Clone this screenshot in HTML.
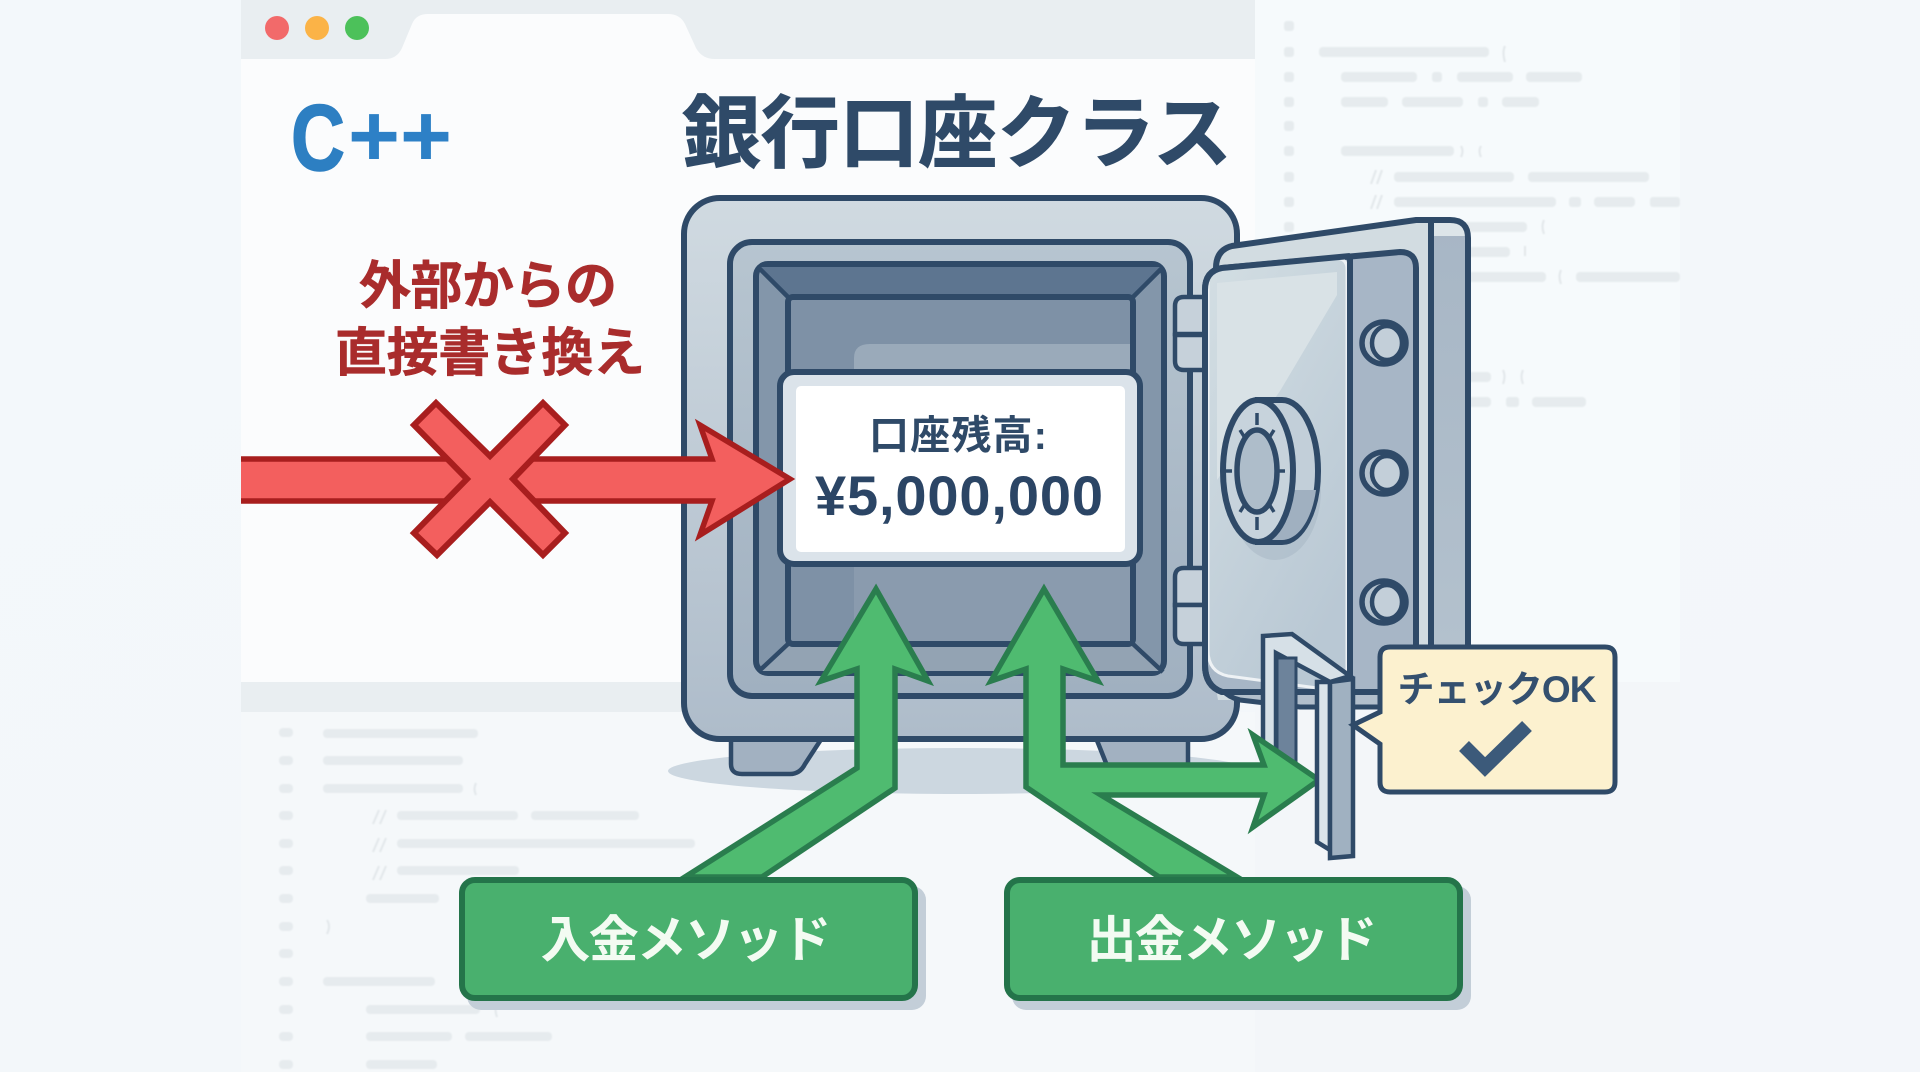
<!DOCTYPE html>
<html lang="ja"><head><meta charset="utf-8"><title>銀行口座クラス</title>
<style>html,body{margin:0;padding:0;width:1920px;height:1072px;overflow:hidden;background:#f4f7fb}svg{display:block}
text{font-family:"Liberation Sans","Noto Sans CJK JP",sans-serif;font-weight:700}</style></head><body>
<svg width="1920" height="1072" viewBox="0 0 1920 1072" xmlns="http://www.w3.org/2000/svg">
<defs>
<linearGradient id="bg" x1="0" y1="0" x2="1" y2="1"><stop offset="0" stop-color="#f3f8fb"/><stop offset="1" stop-color="#f3f6fa"/></linearGradient>
<linearGradient id="body" x1="0" y1="0" x2="0" y2="1"><stop offset="0" stop-color="#d0dae1"/><stop offset="1" stop-color="#aebcca"/></linearGradient>
<linearGradient id="frame" x1="0" y1="0" x2="0" y2="1"><stop offset="0" stop-color="#b7c5d0"/><stop offset="1" stop-color="#a0b0c0"/></linearGradient>
<linearGradient id="door" x1="0" y1="0" x2="0.6" y2="1"><stop offset="0" stop-color="#d3dee3"/><stop offset="1" stop-color="#b9c8d4"/></linearGradient>
<linearGradient id="band" x1="0" y1="0" x2="0" y2="1"><stop offset="0" stop-color="#a7b6c5"/><stop offset="1" stop-color="#b4c2ce"/></linearGradient>
<filter id="soft" x="-2%" y="-2%" width="104%" height="104%"><feGaussianBlur stdDeviation="0.8"/></filter>
<clipPath id="win"><rect x="241" y="0" width="1700" height="1072"/></clipPath>
</defs>
<rect width="1920" height="1072" fill="url(#bg)"/>
<!-- window -->
<rect x="241" y="0" width="1439" height="682" fill="#fbfcfd"/>
<rect x="241" y="712" width="1439" height="360" fill="#f5f8fa"/>
<rect x="241" y="682" width="500" height="30" fill="#e9eef1"/>
<rect x="1255" y="0" width="425" height="682" fill="#f6fafc"/>
<rect x="1255" y="682" width="425" height="390" fill="#f3f6f9"/>
<path d="M241 0H1255V59H715Q702 59 696 48L685 24Q680 14 668 14H428Q416 14 412 24L402 48Q397 59 385 59H241Z" fill="#e9eef1"/>
<circle cx="277" cy="28" r="12" fill="#f26a6a"/><circle cx="317" cy="28" r="12" fill="#fbb347"/><circle cx="357" cy="28" r="12" fill="#4cc15a"/>
<!-- code placeholder -->
<g filter="url(#soft)">
<g fill="#e6ebee">
<rect x="1284" y="21" width="10" height="10" rx="3"/><rect x="1284" y="47" width="10" height="10" rx="3"/><rect x="1284" y="72" width="10" height="10" rx="3"/><rect x="1284" y="97" width="10" height="10" rx="3"/><rect x="1284" y="121" width="10" height="10" rx="3"/><rect x="1284" y="146" width="10" height="10" rx="3"/><rect x="1284" y="172" width="10" height="10" rx="3"/><rect x="1284" y="197" width="10" height="10" rx="3"/><rect x="1284" y="222" width="10" height="10" rx="3"/>
<rect x="1319" y="47" width="170" height="10" rx="4"/>
<rect x="1341" y="72" width="76" height="10" rx="4"/><rect x="1432" y="72" width="10" height="10" rx="3"/><rect x="1457" y="72" width="56" height="10" rx="4"/><rect x="1526" y="72" width="56" height="10" rx="4"/>
<rect x="1341" y="97" width="47" height="10" rx="4"/><rect x="1402" y="97" width="61" height="10" rx="4"/><rect x="1478" y="97" width="10" height="10" rx="3"/><rect x="1502" y="97" width="37" height="10" rx="4"/>
<rect x="1341" y="146" width="113" height="10" rx="4"/>
<rect x="1394" y="172" width="120" height="10" rx="4"/><rect x="1528" y="172" width="121" height="10" rx="4"/>
<rect x="1394" y="197" width="162" height="10" rx="4"/><rect x="1569" y="197" width="12" height="10" rx="3"/><rect x="1594" y="197" width="41" height="10" rx="4"/><rect x="1650" y="197" width="30" height="10" rx="3"/>
<rect x="1394" y="222" width="133" height="10" rx="4"/>
<rect x="1394" y="247" width="116" height="10" rx="4"/>
<rect x="1394" y="272" width="152" height="10" rx="4"/><rect x="1576" y="272" width="104" height="10" rx="4"/>
<rect x="1394" y="372" width="97" height="10" rx="4"/>
<rect x="1394" y="397" width="97" height="10" rx="4"/><rect x="1506" y="397" width="13" height="10" rx="3"/><rect x="1532" y="397" width="54" height="10" rx="4"/>
<rect x="279" y="728" width="14" height="9" rx="4"/><rect x="279" y="756" width="14" height="9" rx="4"/><rect x="279" y="784" width="14" height="9" rx="4"/><rect x="279" y="811" width="14" height="9" rx="4"/><rect x="279" y="839" width="14" height="9" rx="4"/><rect x="279" y="866" width="14" height="9" rx="4"/><rect x="279" y="894" width="14" height="9" rx="4"/><rect x="279" y="922" width="14" height="9" rx="4"/><rect x="279" y="949" width="14" height="9" rx="4"/><rect x="279" y="977" width="14" height="9" rx="4"/><rect x="279" y="1005" width="14" height="9" rx="4"/><rect x="279" y="1032" width="14" height="9" rx="4"/><rect x="279" y="1060" width="14" height="9" rx="4"/>
<rect x="323" y="729" width="155" height="9" rx="4"/><rect x="323" y="756" width="140" height="9" rx="4"/><rect x="323" y="784" width="140" height="9" rx="4"/>
<rect x="397" y="811" width="121" height="9" rx="4"/><rect x="531" y="811" width="108" height="9" rx="4"/>
<rect x="397" y="839" width="298" height="9" rx="4"/>
<rect x="397" y="866" width="122" height="9" rx="4"/>
<rect x="366" y="894" width="73" height="9" rx="4"/>
<rect x="323" y="977" width="112" height="9" rx="4"/>
<rect x="366" y="1005" width="114" height="9" rx="4"/>
<rect x="366" y="1032" width="86" height="9" rx="4"/><rect x="465" y="1032" width="87" height="9" rx="4"/>
<rect x="366" y="1060" width="71" height="9" rx="4"/>
</g>
<g stroke="#e2e7ea" stroke-width="2" fill="none">
<path d="M1505 46q-3 6 0 16M1461 146q3 5 0 11M1481 146q-3 5 0 11M1376 170l-5 14M1382 170l-5 14M1376 195l-5 14M1382 195l-5 14M1544 220q-3 6 0 14M1525 246v10M1561 270q-3 6 0 14M1503 370q3 6 0 14M1523 370q-3 6 0 14"/>
<path d="M476 783q-3 6 0 12M379 810l-6 14M386 810l-6 14M379 838l-6 14M386 838l-6 14M379 866l-6 14M386 866l-6 14M327 920q4 6 0 14M497 1003q-3 6 0 14"/>
</g>
</g>
<!-- title -->
<text x="291" y="170" font-size="94" fill="#2d7fc2" stroke="#2d7fc2" stroke-width="1.5" textLength="54" lengthAdjust="spacingAndGlyphs">C</text>
<text x="348" y="166" font-size="88" fill="#2d80c6" textLength="104" lengthAdjust="spacingAndGlyphs">++</text>
<text x="957" y="161" font-size="79" fill="#2f4a68" stroke="#2f4a68" stroke-width="1" text-anchor="middle" textLength="550">銀行口座クラス</text>
<text x="488" y="304" font-size="52" fill="#a92c2c" stroke="#a92c2c" stroke-width=".6" text-anchor="middle" textLength="258">外部からの</text>
<text x="490" y="371" font-size="52" fill="#a92c2c" stroke="#a92c2c" stroke-width=".6" text-anchor="middle" textLength="310">直接書き換え</text>
<!-- shadow -->
<ellipse cx="960" cy="771" rx="292" ry="23" fill="#ccd7e0"/>
<!-- feet -->
<path d="M731 738H822L805 764Q800 774 790 774H742Q731 774 731 764Z" fill="#a2b1c1" stroke="#2f4a68" stroke-width="4.5"/>
<path d="M1096 738H1188V768H1108Z" fill="#a2b1c1" stroke="#2f4a68" stroke-width="4.5"/>
<!-- safe body -->
<rect x="684" y="198" width="553" height="541" rx="36" fill="url(#body)" stroke="#2f4a68" stroke-width="6"/>
<rect x="730" y="242" width="460" height="454" rx="22" fill="url(#frame)" stroke="#2f4a68" stroke-width="6"/>
<rect x="756" y="264" width="408" height="409" rx="12" fill="#8396aa" stroke="#2f4a68" stroke-width="6"/>
<path d="M788 297H1133L1162 267H759Z" fill="#5d7590"/>
<path d="M788 644H1133L1162 671H759Z" fill="#93a3b3"/>
<rect x="788" y="297" width="345" height="347" rx="5" fill="#7e91a6" stroke="#2f4a68" stroke-width="6"/>
<path d="M854 358Q854 344 870 344H1130V370H854Z" fill="#9aaaba"/>
<path d="M854 560H1130V641H854Z" fill="#8a9bae"/>
<path d="M758 267L788 297M1163 267L1133 297M758 672L788 644M1163 672L1133 644" stroke="#2f4a68" stroke-width="4.5" fill="none"/>
<!-- label -->
<rect x="780" y="372" width="360" height="192" rx="14" fill="#dbe3ea" stroke="#2f4a68" stroke-width="6"/>
<rect x="796" y="386" width="329" height="166" rx="5" fill="#ffffff"/>
<text x="958" y="449" font-size="40" fill="#2f4a68" text-anchor="middle" textLength="178">口座残高:</text>
<text x="959" y="515" font-size="56" fill="#2b4565" text-anchor="middle" textLength="288">¥5,000,000</text>
<!-- hinges -->
<g fill="#c6d1da" stroke="#2f4a68" stroke-width="4.5">
<path d="M1207 297H1184Q1175 297 1175 306V334H1207Z"/><path d="M1207 335H1175V361Q1175 370 1184 370H1207Z"/>
<path d="M1207 568H1184Q1175 568 1175 577V605H1207Z"/><path d="M1207 605H1175V635Q1175 644 1184 644H1207Z"/>
</g>
<!-- door back (in front of body) -->
<path d="M1218 700Q1216 690 1216 680V268Q1216 250 1232 246L1416 220H1450Q1468 220 1468 238V680H1360L1245 700Z" fill="#d2dce1"/>
<path d="M1432 222H1452Q1465 222 1465 236V680H1432Z" fill="url(#band)"/>
<path d="M1432 222H1452Q1465 222 1465 236V236H1432Z" fill="#dde5e9"/>
<path d="M1216 268Q1216 250 1232 246L1416 220H1450Q1468 220 1468 238V660M1431 220V660" fill="none" stroke="#2f4a68" stroke-width="6"/>
<!-- base strip below door -->
<path d="M1216 672Q1218 695 1240 700L1300 707L1380 707V688L1216 668Z" fill="#b2bfcc" stroke="#2f4a68" stroke-width="5"/>
<!-- door front -->
<path d="M1222 692Q1205 686 1205 665V290Q1205 271 1222 268L1400 252Q1416 252 1416 268V692H1340Z" fill="#a7b6c6" stroke="#2f4a68" stroke-width="6"/>
<path d="M1208 282Q1208 272 1218 270L1335 258Q1347 258 1347 269V692L1228 676Q1208 672 1208 650Z" fill="url(#door)" stroke="#eef2f5" stroke-width="3"/>
<path d="M1217 283L1337 272V295L1280 391L1217 480Z" fill="#d9e2e6"/>
<path d="M1350 256V692" stroke="#2f4a68" stroke-width="6"/>
<path d="M1222 692Q1205 686 1205 665V290Q1205 271 1222 268L1350 256" fill="none" stroke="#2f4a68" stroke-width="6"/>
<!-- bolts -->
<g fill="#b3c1cd" stroke="#2f4a68" stroke-width="5.5"><ellipse cx="1384" cy="343" rx="22" ry="21"/><ellipse cx="1384" cy="473" rx="22" ry="21"/><ellipse cx="1384" cy="602" rx="22" ry="21"/></g>
<g fill="#c3cfd9" stroke="#2f4a68" stroke-width="4.5"><ellipse cx="1387" cy="343" rx="15" ry="17"/><ellipse cx="1387" cy="473" rx="15" ry="17"/><ellipse cx="1387" cy="602" rx="15" ry="17"/></g>
<!-- dial -->
<ellipse cx="1275" cy="490" rx="46" ry="70" fill="#a6b5c3" opacity=".5"/>
<path d="M1258 400H1282C1302 400 1318 432 1318 471S1302 542 1282 542H1258Z" fill="#c2cfd9" stroke="#2f4a68" stroke-width="6"/>
<path d="M1285 490H1316C1312 520 1298 540 1282 540H1270C1280 530 1285 510 1285 490Z" fill="#a0b0c0"/>
<ellipse cx="1258" cy="471" rx="35" ry="71" fill="#c7d3dc" stroke="#2f4a68" stroke-width="6"/>
<ellipse cx="1257" cy="471" rx="20" ry="41" fill="#aebdca" stroke="#2f4a68" stroke-width="5.5"/>
<path d="M1257 413V425M1257 517V530M1232 471H1226M1277 471H1285M1240 430L1245 438M1274 430L1269 438M1240 512L1245 504M1274 512L1269 504" stroke="#2f4a68" stroke-width="3.5" fill="none"/>
<!-- latch back -->
<path d="M1263 636L1292 634L1350 676L1330 682L1276 653V775H1263Z" fill="#d6e0e7" stroke="#2f4a68" stroke-width="4.5"/>
<rect x="1277" y="658" width="19" height="110" fill="#6d839b" stroke="#2f4a68" stroke-width="3"/>
<!-- green arrows -->
<g fill="#4fbb70" stroke="#2a7d4e" stroke-width="5.5" stroke-linejoin="miter">
<path d="M876 589L928 681L895 669V788L762 877H685L857 768V669L821 681Z"/>
<path d="M1044 589L1098 681L1063 669V765H1264L1253 735L1319 780L1253 827L1264 795H1101L1237 877H1159L1026 787V669L991 681Z"/>
</g>
<!-- latch front -->
<path d="M1317 682L1330 682V850L1317 842Z" fill="#dbe4ea" stroke="#2f4a68" stroke-width="4.5"/>
<path d="M1330 682L1353 679V856L1330 858Z" fill="#a0b1c1" stroke="#2f4a68" stroke-width="4.5"/>
<!-- callout -->
<path d="M1390 647H1605Q1615 647 1615 657V782Q1615 792 1605 792H1390Q1380 792 1380 782V744L1353 725L1380 712V657Q1380 647 1390 647Z" fill="#fcf1cf" stroke="#2f4a68" stroke-width="5"/>
<text x="1497" y="702" font-size="37" fill="#34506f" text-anchor="middle" textLength="199">チェックOK</text>
<path d="M1464 746L1485 767L1527 726" fill="none" stroke="#3c5a7a" stroke-width="14"/>
<!-- red arrow -->
<g clip-path="url(#win)">
<path d="M225 459H712L700 425L790 479L700 535L712 501H225Z" fill="#f35f5e" stroke="#a81e1e" stroke-width="5.5"/>
</g>
<path d="M436 403L490 456L543 403L565 425L513 479L565 533L543 555L490 502L437 555L414 533L467 479L414 425Z" fill="#f35f5e" stroke="#a81e1e" stroke-width="6"/>
<!-- buttons -->
<rect x="467" y="886" width="459" height="124" rx="14" fill="#c3ced8"/>
<rect x="1012" y="886" width="459" height="124" rx="14" fill="#c3ced8"/>
<rect x="462" y="880" width="453" height="118" rx="13" fill="#49b06e" stroke="#24744a" stroke-width="6"/>
<rect x="1007" y="880" width="453" height="118" rx="13" fill="#49b06e" stroke="#24744a" stroke-width="6"/>
<text x="686" y="957" font-size="50" fill="#f3fbf2" text-anchor="middle" textLength="291">入金メソッド</text>
<text x="1232" y="957" font-size="50" fill="#f3fbf2" text-anchor="middle" textLength="291">出金メソッド</text>
</svg>
</body></html>
